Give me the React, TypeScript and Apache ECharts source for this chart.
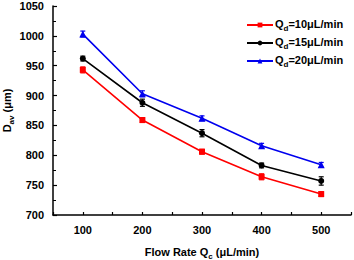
import React, { useEffect, useRef } from "react";
import * as echarts from "echarts";

const flowRates = [100, 200, 300, 400, 500];
const q10 = [943, 859, 806, 764, 735];
const q15 = [962, 888, 837, 783, 757];
const q20 = [1003, 903, 862, 816, 784];
const err10 = [5, 4, 4, 5, 4];
const err15 = [4, 6, 6, 4, 7];
const err20 = [5, 5, 4, 4, 4];
const seriesNames = ["Qd=10μL/min", "Qd=15μL/min", "Qd=20μL/min"];
const colors = ["#ff0000", "#000000", "#0000ee"];
const symbols = ["rect", "circle", "triangle"];

const font = "'Liberation Sans', Arial, sans-serif";

export default function App() {
  const ref = useRef<HTMLDivElement>(null);
  useEffect(() => {
    const chart = echarts.init(ref.current!, null, { renderer: "svg" });
    const values = [q10, q15, q20];
    const errs = [err10, err15, err20];
    const lineSeries = values.map((v, i) => ({
      name: seriesNames[i],
      type: "line",
      data: flowRates.map((x, j) => [x, v[j]]),
      symbol: symbols[i],
      symbolSize: i === 2 ? 7 : 6,
      lineStyle: { color: colors[i], width: 1.6 },
      itemStyle: { color: colors[i] },
      z: 3,
    }));
    const errSeries = values.map((v, i) => ({
      type: "custom",
      data: flowRates.map((x, j) => [x, v[j] - errs[i][j], v[j] + errs[i][j]]),
      z: 4,
      renderItem: (params: any, api: any) => {
        const x = api.value(0);
        const lo = api.coord([x, api.value(1)]);
        const hi = api.coord([x, api.value(2)]);
        const c = 2.5;
        const st = { stroke: colors[i], lineWidth: 1.2 };
        return {
          type: "group",
          children: [
            { type: "line", shape: { x1: lo[0], y1: lo[1], x2: hi[0], y2: hi[1] }, style: st },
            { type: "line", shape: { x1: lo[0] - c, y1: lo[1], x2: lo[0] + c, y2: lo[1] }, style: st },
            { type: "line", shape: { x1: hi[0] - c, y1: hi[1], x2: hi[0] + c, y2: hi[1] }, style: st },
          ],
        };
      },
      silent: true,
    }));
    const rich = {
      a: { fontFamily: font, fontWeight: "bold", fontSize: 11, lineHeight: 14, verticalAlign: "top", color: "#000" },
      s: { fontFamily: font, fontWeight: "bold", fontSize: 8, lineHeight: 6, verticalAlign: "bottom", color: "#000" },
    };
    chart.setOption({
      animation: false,
      grid: { left: 53, top: 6, right: 3, bottom: 45, containLabel: false, outerBoundsMode: "none" },
      legend: {
        orient: "vertical",
        left: 241,
        top: 13,
        itemWidth: 26,
        itemHeight: 6,
        itemGap: 4,
        data: seriesNames,
        formatter: (n: string) => {
          const rest = n.slice(2);
          return "{a|Q}{s|d}{a|" + rest + "}";
        },
        textStyle: { rich, padding: [0, 0, 0, -3] },
      },
      xAxis: {
        type: "value",
        min: 50,
        max: 550,
        interval: 50,
        splitLine: { show: false },
        axisLine: { lineStyle: { color: "#000", width: 1.5 } },
        axisTick: { inside: true, length: 3, lineStyle: { color: "#000", width: 1.2 } },
        axisLabel: {
          formatter: (v: number) => (v % 100 === 0 ? String(v) : ""),
          fontFamily: font,
          fontWeight: "bold",
          fontSize: 11,
          color: "#000",
          margin: 9,
        },
        name: "{a|Flow Rate Q}{s|c}{a| (μL/min)}",
        nameLocation: "middle",
        nameGap: 31,
        nameMoveOverlap: false,
        nameTextStyle: { rich },
      },
      yAxis: {
        type: "value",
        min: 700,
        max: 1050,
        interval: 50,
        splitLine: { show: false },
        axisLine: { show: true, lineStyle: { color: "#000", width: 1.5 } },
        axisTick: { show: true, inside: true, length: 4, lineStyle: { color: "#000", width: 1.2 } },
        minorTick: { show: true, splitNumber: 2, length: 3, lineStyle: { color: "#000", width: 1 } },
        axisLabel: {
          formatter: (v: number) => String(v),
          fontFamily: font,
          fontWeight: "bold",
          fontSize: 11,
          color: "#000",
          margin: 9,
        },
        name: "{a|D}{s|av}{a| (μm)}",
        nameLocation: "middle",
        nameRotate: 90,
        nameGap: 38,
        nameMoveOverlap: false,
        nameTextStyle: { rich },
      },
      series: [...lineSeries, ...errSeries],
    });
    return () => chart.dispose();
  }, []);
  return <div ref={ref} style={{ width: 354, height: 260, position: "absolute", left: 0, top: 0 }} />;
}
